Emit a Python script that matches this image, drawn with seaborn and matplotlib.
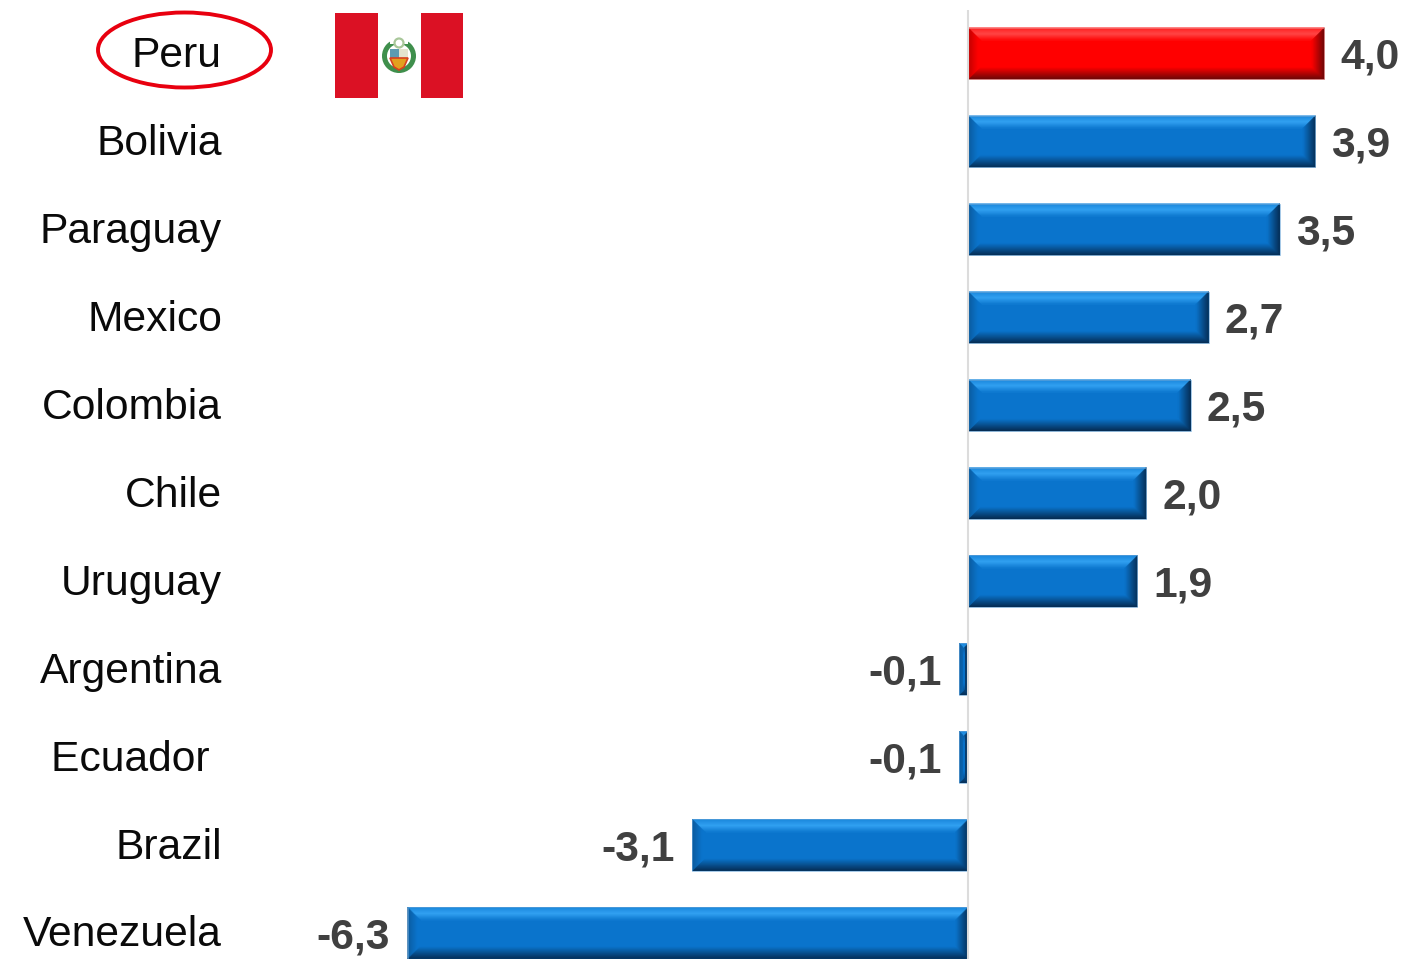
import matplotlib
matplotlib.use("Agg")
import matplotlib.pyplot as plt
import matplotlib.colors as mc
from matplotlib.patches import Ellipse, Polygon, Rectangle, Circle
import numpy as np
import pandas as pd
import seaborn as sns

countries = ["Peru", "Bolivia", "Paraguay", "Mexico", "Colombia", "Chile", "Uruguay",
             "Argentina", "Ecuador ", "Brazil", "Venezuela"]
growth = [4.0, 3.9, 3.5, 2.7, 2.5, 2.0, 1.9, -0.1, -0.1, -3.1, -6.3]
groups = ["Peru"] + ["Other"] * 10
value_labels = ["4,0", "3,9", "3,5", "2,7", "2,5", "2,0", "1,9", "-0,1", "-0,1", "-3,1", "-6,3"]

W, H = 1405, 959
sns.set_theme(style="white")
plt.rcParams["font.family"] = ["Liberation Sans", "DejaVu Sans"]
fig = plt.figure(figsize=(W / 100, H / 100), dpi=100, facecolor="white")

AX_L = 235
ax = fig.add_axes([AX_L / W, 0, (W - AX_L) / W, 1])
df = pd.DataFrame({"country": countries, "growth": growth, "group": groups})
palette = {"Peru": "#ff0000", "Other": "#0a74cc"}
sns.barplot(data=df, x="growth", y="country", hue="group", dodge=False, palette=palette,
            width=0.585, legend=False, order=countries, ax=ax, saturation=1, linewidth=0)

PX_X, PX_Y = 89.0, 87.95
ZERO, FIRST = 968.3, 53.5
ax.set_xlim((AX_L - ZERO) / PX_X, (W - ZERO) / PX_X)
ax.set_ylim((H - FIRST) / PX_Y, -FIRST / PX_Y)
ax.set_xlabel("")
ax.set_ylabel("")
ax.set_xticks([])
for s in ax.spines.values():
    s.set_visible(False)
ax.tick_params(axis="y", length=0, pad=(AX_L - 222) * 0.72, labelsize=30.7, labelcolor="#0a0a0a")
for t in ax.get_yticklabels():
    t.set_transform(t.get_transform() + matplotlib.transforms.ScaledTranslation(0, 2 / 100, fig.dpi_scale_trans))
ax.plot([0, 0], [-0.49, 10.3], color="#dcdcdc", lw=1.5, zorder=4, solid_capstyle="butt")


def mix(a, b, t):
    a, b = np.array(mc.to_rgb(a)), np.array(mc.to_rgb(b))
    return tuple(a + (b - a) * t)


def bevel(p, base, light, dark, darkest, edge):
    x0, x1 = sorted([p.get_x(), p.get_x() + p.get_width()])
    y0, y1 = sorted([p.get_y(), p.get_y() + p.get_height()])
    n = 13
    max_x = (x1 - x0) / 2
    for k in range(n):
        d = k / n
        ex = min(k / PX_X, max_x)
        ey = k / PX_Y
        ex2 = min((k + 1) / PX_X, max_x)
        ey2 = (k + 1) / PX_Y
        top = mix(light, base, (d - 0.45) / 0.55) if d > 0.45 else mix(base, light, 0.45 + d * 1.2)
        bot = mix(darkest, base, min(d * 1.1, 1))
        right = mix(darkest, base, min(d * 1.05, 1))
        left = mix(dark, base, min(d * 1.4, 1))
        a = (x0 + ex, y0 + ey); b = (x1 - ex, y0 + ey)
        c = (x1 - ex, y1 - ey); e = (x0 + ex, y1 - ey)
        a2 = (x0 + ex2, y0 + ey2); b2 = (x1 - ex2, y0 + ey2)
        c2 = (x1 - ex2, y1 - ey2); e2 = (x0 + ex2, y1 - ey2)
        for pts, col in (([a, b, b2, a2], top), ([b, c, c2, b2], right),
                         ([c, e, e2, c2], bot), ([e, a, a2, e2], left)):
            ax.add_patch(Polygon(pts, closed=True, fc=col, ec=col, lw=0.3, zorder=3))
    ax.add_patch(Rectangle((x0, y0), x1 - x0, y1 - y0, fc="none", ec=edge, lw=0.6, alpha=0.7, zorder=3.5))


styles = {
    "#ff0000": ("#ff0000", "#ff4a4a", "#c00000", "#640808", "#ee8a8a"),
    "#0a74cc": ("#0a74cc", "#35a5f5", "#0a5a9c", "#052c52", "#6aa6d8"),
}
bars = [p for c in ax.containers for p in c if p.get_width() == p.get_width() and p.get_width() != 0]
for p in bars:
    key = mc.to_hex(p.get_facecolor()[:3])
    bevel(p, *styles[key])

for cat, val, lab in zip(range(len(growth)), growth, value_labels):
    gap = 11.5 if val > 0 else -13
    ax.annotate(lab, (val, cat), xytext=(gap, -3), textcoords="offset points",
                ha="left" if val > 0 else "right", va="center", fontsize=30.7,
                fontweight="bold", color="#404040", zorder=5)

# Overlay in pixel coordinates: highlight ellipse and flag
ov = fig.add_axes([0, 0, 1, 1], facecolor="none")
ov.set_xlim(0, W)
ov.set_ylim(H, 0)
ov.axis("off")
ov.add_patch(Ellipse((184.5, 50), 173, 75, fc="none", ec="#e8000f", lw=2.8))
ov.add_patch(Rectangle((335, 13), 128, 85, fc="#db1124", ec="none"))
ov.add_patch(Rectangle((378, 13), 42.5, 85, fc="white", ec="none"))
ov.add_patch(Circle((399, 56), 14.5, fc="none", ec="#3f8f4c", lw=3.6))
ov.add_patch(Rectangle((390, 36), 18, 8, fc="white", ec="none"))
ov.add_patch(Circle((399, 43), 4.5, fc="white", ec="#a9c79a", lw=1.6))
ov.add_patch(Rectangle((390, 49), 9, 9, fc="#5d9bb0", ec="none"))
ov.add_patch(Rectangle((399, 49), 9, 9, fc="#e4e4cf", ec="none"))
ov.add_patch(Polygon([(390, 58), (408, 58), (404, 67), (399, 70), (394, 67)], fc="#e2a01f", ec="#d8401e", lw=1.2))

fig.savefig("out.png", dpi=100, facecolor="white")
